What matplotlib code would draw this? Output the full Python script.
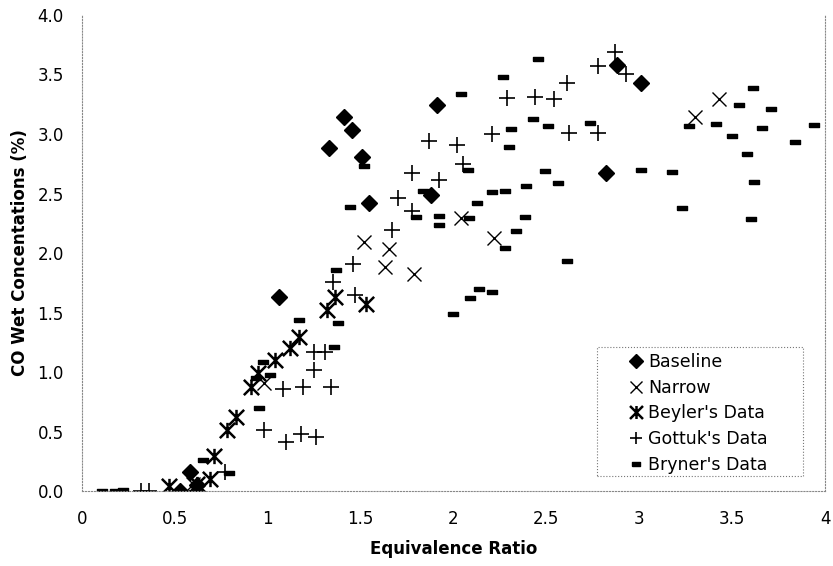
import matplotlib
matplotlib.use("Agg")
import matplotlib.pyplot as plt
from matplotlib.path import Path
from matplotlib.patches import Rectangle

plt.rcParams['font.family'] = ['DejaVu Sans']

# Baseline (filled diamonds)
baseline_x = [0.53, 0.58, 0.62, 1.06, 1.33, 1.41, 1.455, 1.505, 1.545, 1.88, 1.91, 2.82, 2.88, 3.01]
baseline_y = [0.0, 0.16, 0.05, 1.63, 2.885, 3.14, 3.03, 2.81, 2.42, 2.49, 3.24, 2.675, 3.58, 3.43]

# Narrow (thin x)
narrow_x = [0.60, 0.98, 1.52, 1.63, 1.655, 1.785, 2.04, 2.22, 3.30, 3.43]
narrow_y = [0.06, 0.91, 2.09, 1.885, 2.03, 1.82, 2.29, 2.13, 3.145, 3.29]

# Beyler's Data
beyler_x = [0.47, 0.62, 0.69, 0.71, 0.78, 0.83, 0.91, 0.945, 1.04, 1.12, 1.17, 1.32, 1.36, 1.53]
beyler_y = [0.04, 0.06, 0.10, 0.29, 0.51, 0.62, 0.87, 0.99, 1.10, 1.20, 1.29, 1.52, 1.63, 1.57]

# Gottuk's Data
gottuk_x = [0.32, 0.36, 0.62, 0.77, 0.98, 1.08, 1.10, 1.18, 1.19, 1.25, 1.25, 1.26, 1.31, 1.34,
            1.35, 1.46, 1.47, 1.67, 1.70, 1.775, 1.775, 1.87, 1.92, 2.02, 2.05, 2.21, 2.29, 2.44,
            2.54, 2.61, 2.62, 2.78, 2.78, 2.87, 2.93]
gottuk_y = [0.0, 0.0, 0.0, 0.16, 0.51, 0.86, 0.41, 0.48, 0.87, 1.17, 1.02, 0.45, 1.17, 0.87,
            1.76, 1.91, 1.65, 2.19, 2.46, 2.67, 2.35, 2.94, 2.61, 2.91, 2.75, 3.00, 3.30, 3.31,
            3.29, 3.43, 3.01, 3.01, 3.57, 3.69, 3.50]

# Bryner's Data
bryner_x = [0.11, 0.18, 0.22, 0.65, 0.79, 0.935, 0.955, 0.975, 1.01, 1.17, 1.355, 1.365, 1.38,
            1.445, 1.52, 1.80, 1.835, 1.92, 1.92, 2.00, 2.04, 2.08, 2.085, 2.09, 2.125, 2.14,
            2.21, 2.21, 2.265, 2.275, 2.28, 2.30, 2.31, 2.335, 2.385, 2.39, 2.43, 2.455, 2.495,
            2.51, 2.565, 2.61, 2.735, 3.01, 3.175, 3.23, 3.27, 3.415, 3.50, 3.535, 3.58, 3.60,
            3.615, 3.62, 3.66, 3.71, 3.84, 3.94]
bryner_y = [0.0, 0.0, 0.01, 0.26, 0.15, 0.95, 0.70, 1.085, 0.975, 1.44, 1.21, 1.86, 1.41,
            2.39, 2.73, 2.305, 2.52, 2.31, 2.235, 1.49, 3.34, 2.70, 2.29, 1.625, 2.42, 1.695,
            1.67, 2.515, 3.48, 2.52, 2.04, 2.89, 3.04, 2.185, 2.305, 2.56, 3.125, 3.63, 2.69,
            3.07, 2.59, 1.935, 3.095, 2.70, 2.68, 2.38, 3.07, 3.08, 2.98, 3.24, 2.83, 2.285,
            3.39, 2.60, 3.05, 3.21, 2.93, 3.075]

x_ticks = [0, 0.5, 1, 1.5, 2, 2.5, 3, 3.5, 4]
x_labels = ["0", "0.5", "1", "1.5", "2", "2.5", "3", "3.5", "4"]
y_ticks = [0.0, 0.5, 1.0, 1.5, 2.0, 2.5, 3.0, 3.5, 4.0]

# custom markers
M, L = Path.MOVETO, Path.LINETO
beyler_marker = Path([(-1, -1), (1, 1), (-1, 1), (1, -1), (0, -1), (0, 1)],
                     [M, L, M, L, M, L])
dash_marker = [(-1, -0.45), (1, -0.45), (1, 0.45), (-1, 0.45), (-1, -0.45)]

fig = plt.figure(figsize=(8.33, 5.66), dpi=100)
ax = fig.add_axes([0.0984, 0.1325, 0.8920, 0.8410])

ax.plot(bryner_x, bryner_y, linestyle='none', marker=dash_marker, markersize=7,
        color='black', label="Bryner's Data")
ax.plot(gottuk_x, gottuk_y, linestyle='none', marker='+', markersize=11,
        markeredgewidth=1.2, color='black', label="Gottuk's Data")
ax.plot(beyler_x, beyler_y, linestyle='none', marker=beyler_marker, markersize=11,
        markeredgewidth=1.8, markerfacecolor='none', color='black', label="Beyler's Data")
ax.plot(narrow_x, narrow_y, linestyle='none', marker='x', markersize=10,
        markeredgewidth=1.0, color='black', label='Narrow')
ax.plot(baseline_x, baseline_y, linestyle='none', marker='D', markersize=8.5,
        color='black', label='Baseline')

ax.set_xlim(0, 4)
ax.set_ylim(0, 4)
ax.set_xticks(x_ticks)
ax.set_xticklabels(x_labels)
ax.set_yticks(y_ticks)
ax.set_yticklabels(["%.1f" % v for v in y_ticks])
ax.tick_params(axis='both', length=0, labelsize=12)
ax.tick_params(axis='y', pad=13)
ax.tick_params(axis='x', pad=14)

for side in ['left', 'bottom', 'right']:
    ax.spines[side].set_linestyle(':')
    ax.spines[side].set_color('#888888')
    ax.spines[side].set_linewidth(0.8)
ax.spines['top'].set_visible(False)

ax.set_xlabel('Equivalence Ratio', fontsize=12, fontweight='bold', labelpad=8)
ax.set_ylabel('CO Wet Concentations (%)', fontsize=12, fontweight='bold', labelpad=6)

handles, labels = ax.get_legend_handles_labels()
order = [4, 3, 2, 1, 0]
leg = ax.legend([handles[i] for i in order], [labels[i] for i in order],
                loc='center', bbox_to_anchor=(0.83, 0.163), fontsize=12.5,
                frameon=False, handlelength=0.8, handletextpad=0.3,
                labelspacing=0.45, borderpad=0.0, markerscale=0.85)

# legend box is wider than its contents in the original
ax.add_patch(Rectangle((0.693, 0.0315), 0.277, 0.271, transform=ax.transAxes,
                       fill=False, edgecolor='#777777', linestyle=':', linewidth=0.8,
                       zorder=5))

fig.savefig('out.png', dpi=100)
